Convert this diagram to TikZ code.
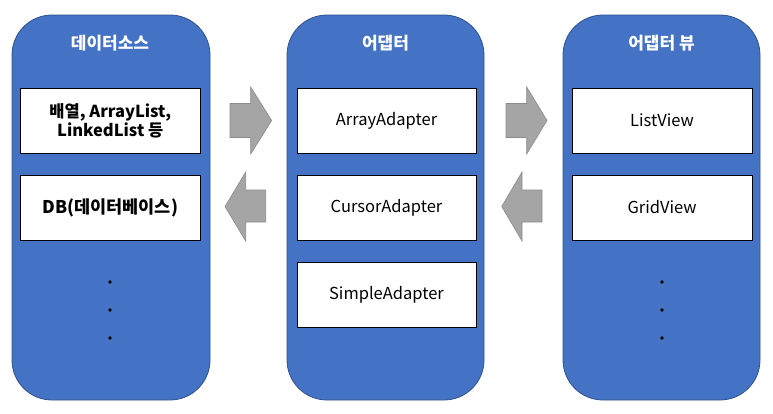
\documentclass[tikz,border=0pt]{standalone}
\usepackage{fontspec}
\setmainfont{Noto Sans CJK KR}
\definecolor{panelblue}{HTML}{4472C4}
\definecolor{paneledge}{HTML}{2F528F}
\definecolor{arrowfill}{HTML}{A5A5A5}
\definecolor{arrowedge}{HTML}{8C8C8C}
\tikzset{
  panel/.style={draw=paneledge, line width=0.8pt, fill=panelblue, rounded corners=40pt, minimum height=385pt, inner sep=0pt},
  itembox/.style={draw=black, line width=0.9pt, fill=white, minimum height=65pt, inner sep=0pt, align=center, font=\fontsize{16.5}{19}\selectfont},
  boldbox/.style={itembox, font=\fontsize{16.5}{19}\selectfont\bfseries},
  title/.style={text=white, font=\fontsize{17}{19}\selectfont\bfseries, inner sep=0pt},
  blockarrow/.style={fill=arrowfill, draw=arrowedge, line width=0.6pt},
  dotmark/.style={circle, fill=black, inner sep=0pt, minimum size=3.6pt}
}
\begin{document}
\begin{tikzpicture}[x=1pt,y=-1pt]
\useasboundingbox (0,0) rectangle (773,413);
% panels
\node[panel, minimum width=198pt] (src) at (111,207.5) {};
\node[panel, minimum width=197pt] (adp) at (385.5,207.5) {};
\node[panel, minimum width=197pt] (view) at (661.5,207.5) {};
% titles
\node[title] (srcT) at (110,43) {데이터소스};
\node[title] (adpT) at (385.5,43) {어댑터};
\node[title] (viewT) at (661.5,43) {어댑터 뷰};
% left boxes
\node[boldbox, minimum width=179.5pt] (arr) at (110.25,120.5) {배열, ArrayList,\\LinkedList 등};
\node[boldbox, minimum width=179.5pt, font=\fontsize{17.5}{19}\selectfont\bfseries] (db) at (110.25,207.5) {DB(데이터베이스)};
% middle boxes
\node[itembox, minimum width=179pt] (aa) at (386.5,120.5) {ArrayAdapter};
\node[itembox, minimum width=179pt] (ca) at (386.5,207.5) {CursorAdapter};
\node[itembox, minimum width=179pt] (sa) at (386.5,294.5) {SimpleAdapter};
% right boxes
\node[itembox, minimum width=180pt] (lv) at (662,120.5) {ListView};
\node[itembox, minimum width=180pt] (gv) at (662,207.5) {GridView};
% dots
\foreach \y/\n in {282/1,310/2,338/3}{
  \node[dotmark] (ld\n) at (110,\y) {};
  \node[dotmark] (rd\n) at (662,\y) {};
}
% block arrows
\draw[blockarrow] (230,103.5) -- (250.7,103.5) -- (250.7,87) -- (271.7,120.5) -- (250.7,154) -- (250.7,137.5) -- (230,137.5) -- cycle;
\draw[blockarrow] (225,206.5) -- (245.7,172) -- (245.7,190) -- (265.7,190) -- (265.7,222) -- (245.7,222) -- (245.7,241) -- cycle;
\draw[blockarrow] (506,103.5) -- (526.7,103.5) -- (526.7,87) -- (547,120.5) -- (526.7,154) -- (526.7,137.5) -- (506,137.5) -- cycle;
\draw[blockarrow] (501.7,206.5) -- (522,172) -- (522,190) -- (542,190) -- (542,222) -- (522,222) -- (522,241) -- cycle;
\end{tikzpicture}
\end{document}
